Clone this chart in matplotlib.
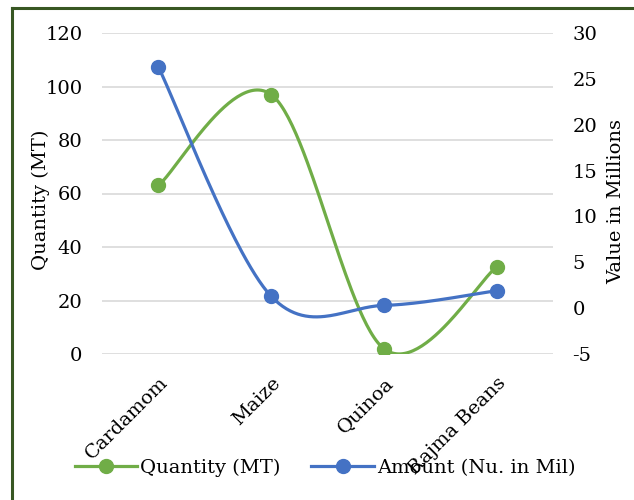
import numpy as np
import matplotlib
matplotlib.use("Agg")
import matplotlib.pyplot as plt
from matplotlib.lines import Line2D

categories = ["Cardamom", "Maize", "Quinoa", "Rajma Beans"]
quantity_mt = [63, 97, 2, 32.5]
amount_mil = [26.3, 1.3, 0.3, 1.9]

left_ticks = [0, 20, 40, 60, 80, 100, 120]
right_ticks = [-5, 0, 5, 10, 15, 20, 25, 30]

GREEN = "#70AD47"
BLUE = "#4472C4"
FONT = "DejaVu Serif"
FS = 14


def smooth(xs, ys, n=60):
    """Bezier smoothing with Catmull-Rom style control points."""
    xs = np.asarray(xs, float)
    ys = np.asarray(ys, float)
    pts = np.column_stack([xs, ys])
    out = []
    m = len(pts)
    for i in range(m - 1):
        p0 = pts[max(i - 1, 0)]
        p1 = pts[i]
        p2 = pts[i + 1]
        p3 = pts[min(i + 2, m - 1)]
        c1 = p1 + (p2 - p0) / 6.0
        c2 = p2 - (p3 - p1) / 6.0
        t = np.linspace(0, 1, n)[:, None]
        seg = ((1 - t) ** 3) * p1 + 3 * ((1 - t) ** 2) * t * c1 + 3 * (1 - t) * t ** 2 * c2 + t ** 3 * p2
        out.append(seg if i == 0 else seg[1:])
    seg = np.vstack(out)
    return seg[:, 0], seg[:, 1]


plt.rcParams["font.family"] = [FONT, "DejaVu Sans"]
plt.rcParams["axes.unicode_minus"] = False
fig = plt.figure(figsize=(6.34, 5.0), dpi=100)

# outer frame of the chart area (top and left edges)
fx, fy = 12 / 634, 1 - 8 / 500
fig.add_artist(Line2D([fx, fx], [-0.1, fy], transform=fig.transFigure,
                      color="#385723", linewidth=2.2))
fig.add_artist(Line2D([fx, 1.1], [fy, fy], transform=fig.transFigure,
                      color="#385723", linewidth=2.2))

ax = fig.add_axes([102 / 634, 1 - 354 / 500, 451 / 634, 321 / 500])
ax2 = ax.twinx()

x = np.arange(len(categories))
ax.set_xlim(-0.5, len(categories) - 0.5)
ax.set_ylim(0, 120)
ax2.set_ylim(-5, 30)

ax.set_yticks(left_ticks)
ax2.set_yticks(right_ticks)
ax.grid(axis="y", color="#D9D9D9", linewidth=1.2)
ax.set_axisbelow(True)

for a in (ax, ax2):
    for s in a.spines.values():
        s.set_visible(False)
    a.tick_params(length=0, labelsize=FS, colors="#000000")

ax.tick_params(axis="y", pad=14)
ax2.tick_params(axis="y", pad=14)

ax.set_xticks(x)
ax.set_xticklabels(categories, rotation=45, ha="right", va="top",
                   rotation_mode="anchor", fontsize=FS)
ax.tick_params(axis="x", pad=14)

gx, gy = smooth(x, quantity_mt)
bx, by = smooth(x, amount_mil)

ax.plot(gx, gy, color=GREEN, linewidth=2.3, solid_capstyle="round")
ax.plot(x, quantity_mt, "o", color=GREEN, markersize=10)
ax2.plot(bx, by, color=BLUE, linewidth=2.3, solid_capstyle="round")
ax2.plot(x, amount_mil, "o", color=BLUE, markersize=10)

ax.set_ylabel("Quantity (MT)", fontsize=FS)
ax2.set_ylabel("Value in Millions", fontsize=FS)
ax.yaxis.set_label_coords((50 - 102) / 451, (354 - 200) / 321)
ax2.yaxis.set_label_coords((607 - 102) / 451, (354 - 202) / 321)

h1 = Line2D([], [], color=GREEN, linewidth=2.3, marker="o", markersize=10)
h2 = Line2D([], [], color=BLUE, linewidth=2.3, marker="o", markersize=10)
fig.legend([h1, h2], ["Quantity (MT)", "Amount (Nu. in Mil)"],
           loc="center", bbox_to_anchor=(325 / 634, 1 - 468 / 500),
           ncol=2, frameon=False, fontsize=FS, handlelength=3.2,
           handletextpad=0.15, columnspacing=1.6)

fig.savefig("out.png", dpi=100)
